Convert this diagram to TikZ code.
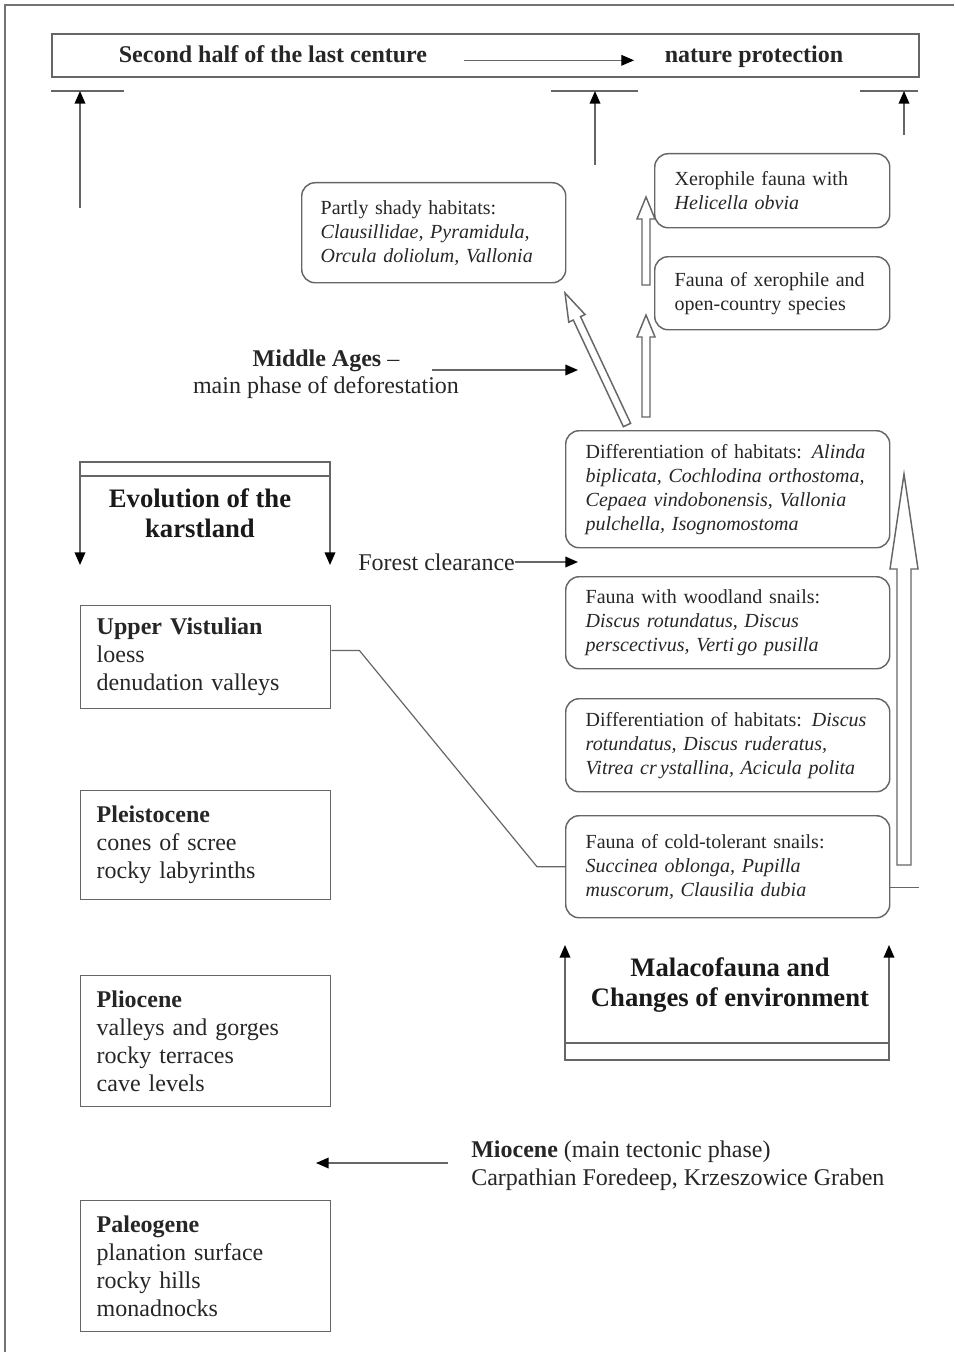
\documentclass[tikz,border=0pt]{standalone}
\usepackage{fontspec}
\setmainfont{Liberation Serif}
\usetikzlibrary{arrows.meta,calc,positioning}

% hollow arrow between two named points: from, to, half shaft, half head, head length
\newcommand{\hollow}[5]{%
    \coordinate (hb) at ($(#2)!#5!(#1)$);
    \draw[line, fill=white]
        ($(#1)!#3!90:(#2)$) -- ($(hb)!#3!90:(#2)$) -- ($(hb)!#4!90:(#2)$) -- (#2)
        -- ($(hb)!#4!-90:(#2)$) -- ($(hb)!#3!-90:(#2)$) -- ($(#1)!#3!-90:(#2)$) -- cycle;
}

\begin{document}
\begin{tikzpicture}[
        x=0.75pt, y=-0.75pt,
        line/.style={draw=black!60, line width=1.1pt},
        tip/.style={-{Triangle[length=9.5pt, width=8pt, black]}},
        txt/.style={text=black!85, font=\fontsize{18}{21}\selectfont},
        head/.style={text=black!90, align=center, font=\bfseries\fontsize{20}{22.5}\selectfont},
        era/.style={txt, line, anchor=north west, minimum width=187.5pt,
            text width=163.5pt, inner xsep=12pt, align=left},
        fauna/.style={line, rounded corners=10pt, anchor=north west, align=left,
            text=black!85, font=\fontsize{15}{18}\selectfont, inner xsep=15pt}
    ]
        \useasboundingbox (0,0) rectangle (954,1352);
        \draw[black!55, line width=1.3pt] (954,5) -- (5,5) -- (5,1352);

        % top bar
        \node[line, line width=1.4pt, anchor=north west, minimum width=650.25pt, minimum height=32.25pt] (bar) at (51,33) {};
        \node[txt, anchor=base, font=\bfseries\fontsize{18}{21}\selectfont] (second) at (273,63) {Second half of the last centure};
        \node[txt, anchor=base, font=\bfseries\fontsize{18}{21}\selectfont] (protect) at (754,63) {nature protection};
        \draw[line, line width=0.8pt, tip, shorten <=24pt, shorten >=19.5pt]
            ([yshift=2pt]second.base east) -- ([yshift=2pt]protect.base west);

        \foreach \a/\b in {51/124, 551/638, 860/918} {
            \draw[line] (\a,91) -- (\b,91);
        }
        \foreach \x/\y in {80/208, 595/165, 904/135} {
            \coordinate (up\x) at (\x,\y);
            \coordinate (bar\x) at (\x,91);
            \draw[line, tip] (up\x) -- (bar\x);
        }

        % malacofauna boxes
        \node[fauna, minimum width=176.25pt, minimum height=55.5pt, text width=146.25pt] (xero) at (654,153)
            {Xerophile fauna with\\ \textit{Helicella obvia}};
        \node[fauna, minimum width=176.25pt, minimum height=54.75pt, text width=146.25pt] (open) at (654,256)
            {Fauna of xerophile and\\ open-country species};
        \node[fauna, minimum width=198pt, minimum height=75pt, text width=169.5pt, inner xsep=14.25pt] (shady) at (301,182)
            {Partly shady habitats:\\ \textit{Clausillidae, Pyramidula,}\\ \textit{Orcula doliolum, Vallonia}};
        \node[fauna, minimum width=243pt, minimum height=87.75pt, text width=213pt] (diffA) at (565,430)
            {Differentiation of habitats: \textit{Alinda}\\ \textit{biplicata, Cochlodina orthostoma,}\\
             \textit{Cepaea vindobonensis, Vallonia}\\ \textit{pulchella, Isognomostoma}};
        \node[fauna, minimum width=243pt, minimum height=69pt, text width=213pt] (wood) at (565,576)
            {Fauna with woodland snails:\\ \textit{Discus rotundatus, Discus}\\ \textit{perscectivus, Verti\,go pusilla}};
        \node[fauna, minimum width=243pt, minimum height=69.75pt, text width=213pt] (diffB) at (565,698)
            {Differentiation of habitats: \textit{Discus}\\ \textit{rotundatus, Discus ruderatus,}\\ \textit{Vitrea cr\,ystallina, Acicula polita}};
        \node[fauna, minimum width=243pt, minimum height=76.5pt, text width=213pt] (cold) at (565,815)
            {Fauna of cold-tolerant snails:\\ \textit{Succinea oblonga, Pupilla}\\ \textit{muscorum, Clausilia dubia}};

        % hollow arrows
        \coordinate (h1a) at (646,285);  \coordinate (h1b) at (646,197);
        \coordinate (h2a) at (646,417);  \coordinate (h2b) at (646,315);
        \coordinate (h3a) at (627,425);  \coordinate (h3b) at (565,293);
        \coordinate (h4a) at (904,865);  \coordinate (h4b) at (904,474);
        \hollow{h1a}{h1b}{3pt}{6.75pt}{16.5pt}
        \hollow{h2a}{h2b}{3pt}{6.75pt}{16.5pt}
        \hollow{h3a}{h3b}{3pt}{6.75pt}{21pt}
        \hollow{h4a}{h4b}{5.25pt}{10.5pt}{71.25pt}
        \draw[line] ([yshift=-15.75pt]cold.east) -- ++(29,0);

        % middle ages and forest clearance
        \node[txt, align=center, font=\fontsize{18}{20.25}\selectfont] (middle) at (326,374)
            {\textbf{Middle Ages} --\\ main phase of deforestation};
        \coordinate (midA) at (432,370);
        \coordinate (midB) at (578,370);
        \draw[line, tip] (midA) -- (midB);

        \node[txt, anchor=west, inner sep=0pt] (forest) at (358,562) {Forest clearance};
        \coordinate (forB) at (578,562);
        \draw[line, tip] (forest.east) -- (forB);

        % evolution of the karstland
        \draw[line] (80,462) rectangle (330,476);
        \foreach \x in {80, 330} {
            \coordinate (evo\x) at (\x,476);
            \coordinate (evoT\x) at (\x,565);
            \draw[line, tip] (evo\x) -- (evoT\x);
        }
        \node[head] (evolution) at (200,513) {Evolution of the\\ karstland};

        % malacofauna and changes
        \draw[line] (565,1043) rectangle (889,1060);
        \foreach \x in {565, 889} {
            \coordinate (mal\x) at (\x,1043);
            \coordinate (malT\x) at (\x,945);
            \draw[line, tip] (mal\x) -- (malT\x);
        }
        \node[head] (malaco) at (730,985) {Malacofauna and\\ Changes of environment};

        % periods
        \node[era, minimum height=77.25pt] (upper) at (80,605)
            {\textbf{Upper Vistulian}\\ loess\\ denudation valleys};
        \node[era, minimum height=81.75pt] (pleisto) at (80,790)
            {\textbf{Pleistocene}\\ cones of scree\\ rocky labyrinths\vphantom{p}};
        \node[era, minimum height=98.25pt] (plio) at (80,975)
            {\textbf{Pliocene}\\ valleys and gorges\\ rocky terraces\\ cave levels};
        \node[era, minimum height=98.25pt] (paleo) at (80,1200)
            {\textbf{Paleogene}\\ planation surface\\ rocky hills\\ monadnocks};

        \draw[line, line width=0.9pt] ([yshift=5pt]upper.east) -- ++(28,0)
            -- ([xshift=-21pt]cold.west) -- (cold.west);

        % miocene
        \node[txt, anchor=west, align=left, inner sep=0pt] (miocene) at (471,1166)
            {\textbf{Miocene} (main tectonic phase)\\ Carpathian Foredeep, Krzeszowice Graben};
        \coordinate (mioA) at (448,1163);
        \coordinate (mioB) at (316,1163);
        \draw[line, tip] (mioA) -- (mioB);
    \end{tikzpicture}
\end{document}
